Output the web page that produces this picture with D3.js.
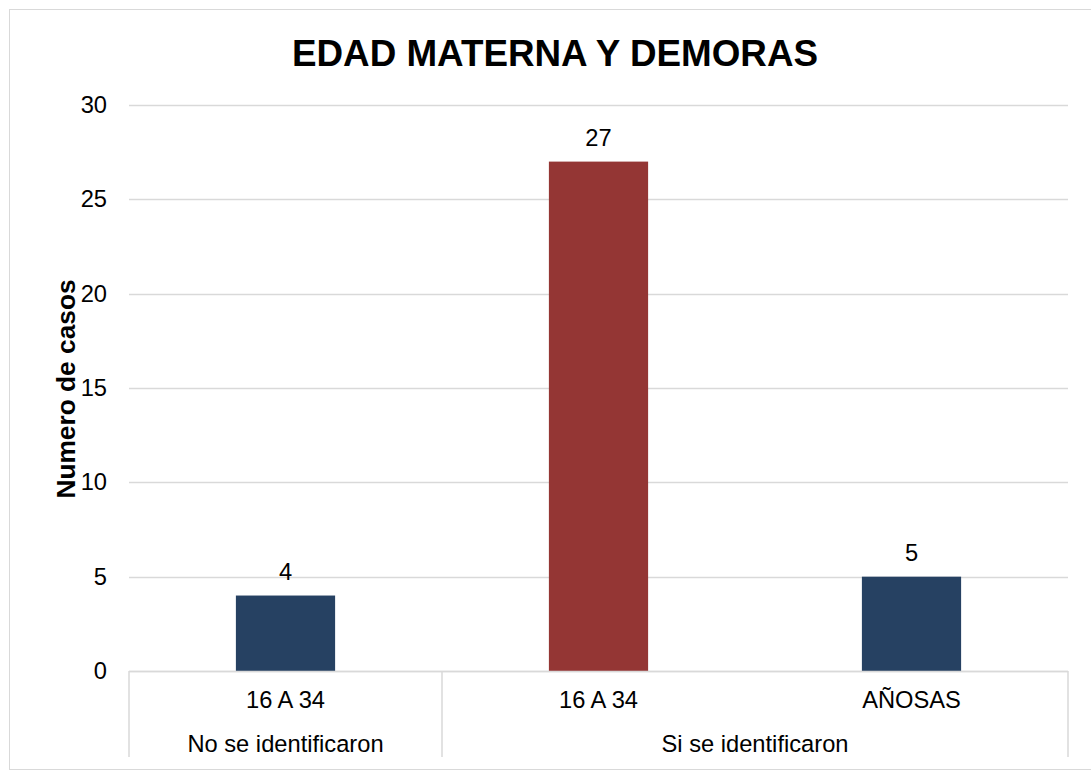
<!DOCTYPE html>
<html>
<head>
<meta charset="utf-8">
<script src="https://cdn.jsdelivr.net/npm/d3@7"></script>
<style>
  html, body { margin: 0; padding: 0; background: #fff; }
  svg { display: block; font-family: "Liberation Sans", Arial, sans-serif; }
</style>
</head>
<body>
<svg id="chart" width="1091" height="771"></svg>
<script>
// chart data
const groups = ["No se identificaron", "Si se identificaron"];
const categories = ["16 A 34", "16 A 34", "AÑOSAS"];
const categoryGroup = [0, 1, 1];
const values = [4, 27, 5];
const barColors = ["#264162", "#943634", "#264162"];
const yTicks = [0, 5, 10, 15, 20, 25, 30];

const labelSize = 23.7;

const svg = d3.select("#chart");

// outer chart border
svg.append("rect")
    .attr("x", 9.5).attr("y", 9.5)
    .attr("width", 1090).attr("height", 760)
    .attr("fill", "none")
    .attr("stroke", "#d9d9d9");

const plot = { left: 129, right: 1068, top: 105, bottom: 671 };

const x = d3.scaleBand()
    .domain(d3.range(categories.length))
    .range([plot.left, plot.right])
    .paddingInner(0.683)
    .paddingOuter(0.683 / 2);

// width of a whole category slot (for the axis boxes)
const slot = (plot.right - plot.left) / categories.length;

const y = d3.scaleLinear()
    .domain([0, 30])
    .range([plot.bottom, plot.top]);

// gridlines
svg.append("g")
    .selectAll("line")
    .data(yTicks)
    .enter().append("line")
    .attr("x1", plot.left).attr("x2", plot.right)
    .attr("y1", d => Math.round(y(d)) + 0.5)
    .attr("y2", d => Math.round(y(d)) + 0.5)
    .attr("stroke", "#d9d9d9")
    .attr("stroke-width", 1.3);

// y axis labels
const yAxis = svg.append("g")
    .attr("transform", `translate(${plot.left},0)`)
    .call(d3.axisLeft(y).tickValues(yTicks).tickSize(0).tickPadding(22));
yAxis.select(".domain").remove();
yAxis.selectAll("text")
    .attr("font-size", labelSize)
    .attr("font-family", "Liberation Sans, Arial, sans-serif")
    .attr("fill", "#000");

// bars
svg.append("g")
    .selectAll("rect")
    .data(values)
    .enter().append("rect")
    .attr("x", (d, i) => x(i))
    .attr("y", d => y(d))
    .attr("width", x.bandwidth())
    .attr("height", d => y(0) - y(d))
    .attr("fill", (d, i) => barColors[i]);

// value labels
svg.append("g")
    .selectAll("text")
    .data(values)
    .enter().append("text")
    .attr("x", (d, i) => x(i) + x.bandwidth() / 2)
    .attr("y", d => y(d) - 16)
    .attr("text-anchor", "middle")
    .attr("font-size", labelSize)
    .attr("fill", "#000")
    .text(d => d);

// category axis box
const axisLine = "#d9d9d9";
const boxBottom = 757;
svg.append("line")
    .attr("x1", plot.left).attr("x2", plot.right)
    .attr("y1", plot.bottom + 0.5).attr("y2", plot.bottom + 0.5)
    .attr("stroke", axisLine).attr("stroke-width", 1.3);

// group boundaries
const groupEdges = [0];
groups.forEach((g, gi) => {
    const last = categoryGroup.lastIndexOf(gi);
    groupEdges.push(last + 1);
});
svg.append("g")
    .selectAll("line")
    .data(groupEdges)
    .enter().append("line")
    .attr("x1", d => plot.left + d * slot)
    .attr("x2", d => plot.left + d * slot)
    .attr("y1", plot.bottom)
    .attr("y2", boxBottom)
    .attr("stroke", axisLine)
    .attr("stroke-width", 1.5);

// inner category labels
svg.append("g")
    .selectAll("text")
    .data(categories)
    .enter().append("text")
    .attr("x", (d, i) => plot.left + (i + 0.5) * slot)
    .attr("y", 708)
    .attr("text-anchor", "middle")
    .attr("font-size", labelSize)
    .attr("fill", "#000")
    .text(d => d);

// group labels
svg.append("g")
    .selectAll("text")
    .data(groups)
    .enter().append("text")
    .attr("x", (d, gi) => plot.left + (groupEdges[gi] + groupEdges[gi + 1]) / 2 * slot)
    .attr("y", 752)
    .attr("text-anchor", "middle")
    .attr("font-size", labelSize)
    .attr("fill", "#000")
    .text(d => d);

// title
svg.append("text")
    .attr("x", 555)
    .attr("y", 66)
    .attr("text-anchor", "middle")
    .attr("font-size", 36.8)
    .attr("font-weight", "bold")
    .attr("fill", "#000")
    .text("EDAD MATERNA Y DEMORAS");

// y axis title
svg.append("text")
    .attr("transform", "translate(75,389) rotate(-90)")
    .attr("text-anchor", "middle")
    .attr("font-size", 26.3)
    .attr("font-weight", "bold")
    .attr("fill", "#000")
    .text("Numero de casos");
</script>
</body>
</html>
